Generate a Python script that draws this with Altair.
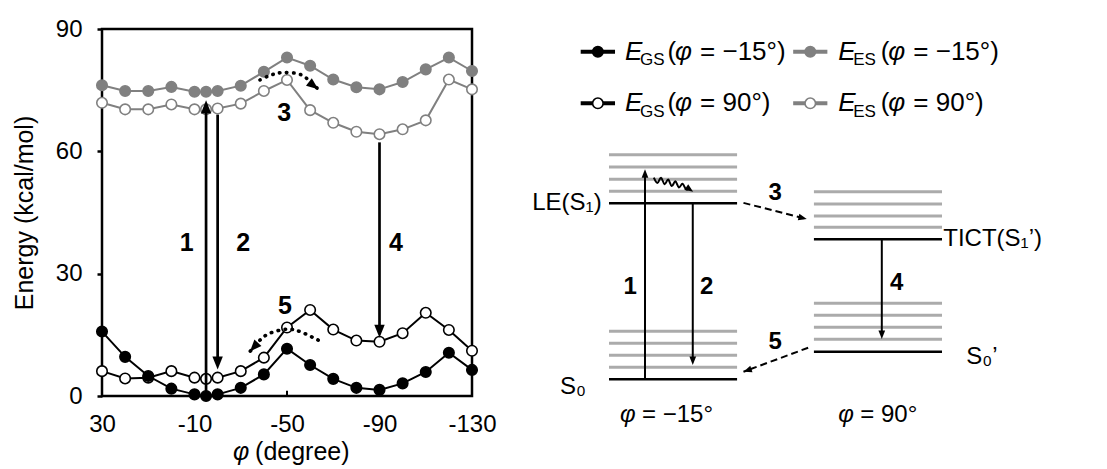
import altair as alt
import pandas as pd

# ---------------- data ----------------
phi = [30, 20, 10, 0, -10, -15, -20, -30, -40, -50, -60, -70, -80, -90, -100, -110, -120, -130]
e_gs_m15 = [15.8, 9.6, 4.9, 1.8, 0.4, 0.0, 0.4, 2.0, 5.3, 11.6, 7.6, 4.2, 2.0, 1.5, 3.1, 5.9, 10.6, 6.4]
e_es_m15 = [76.2, 74.8, 74.8, 75.8, 74.6, 74.6, 74.8, 76.1, 79.5, 83.0, 81.0, 77.6, 75.7, 75.2, 77.0, 80.1, 83.0, 79.7]
e_gs_90 = [6.1, 4.3, 4.5, 6.1, 4.5, 4.2, 4.5, 6.1, 9.4, 16.8, 21.1, 16.3, 13.6, 13.3, 15.4, 20.4, 16.2, 11.1]
e_es_90 = [71.9, 70.3, 70.3, 71.5, 70.3, 70.3, 70.5, 71.7, 74.8, 77.5, 70.1, 67.0, 64.8, 64.2, 65.4, 67.6, 77.6, 75.2]

x_ticks = [30, -10, -50, -90, -130]
y_ticks = [0, 30, 60, 90]

# vertical transitions on the energy panel
arr_phi = [-15, -20, -90]
arr_from = [0.0, 69.0, 62.2]
arr_to = [72.5, 6.5, 14.3]
arr_head_angle = [0, 180, 180]

# numbered labels on the energy panel
lab_text = ["1", "2", "4", "3", "5"]
lab_phi = [-6.6, -31.1, -97.1, -48.8, -49.1]
lab_e = [37.4, 37.4, 37.4, 69.3, 22.1]

# dotted curved arrows (3 and 5)
p3_phi = [-38.3, -43.0, -48.4, -56.4, -63.5]
p3_e = [77.5, 78.7, 79.3, 78.7, 75.2]
p5_phi = [-63.5, -55.6, -49.9, -42.6, -38.3, -34.0]
p5_e = [13.7, 15.8, 16.4, 15.4, 13.7, 10.9]
dot_head_phi = [-63.5, -34.0]
dot_head_e = [75.2, 10.9]
dot_head_angle = [128, 222]

# ---------------- Jablonski-type diagram (diagram units) ----------------
lvl_gray_x1 = [0, 0, 0, 0, 0, 0, 0, 0, 16, 16, 16, 16, 16, 16, 16, 16]
lvl_gray_x2 = [10, 10, 10, 10, 10, 10, 10, 10, 26, 26, 26, 26, 26, 26, 26, 26]
lvl_gray_y = [1.0, 2.0, 3.0, 4.0, 15.67, 16.67, 17.7, 18.72,
              3.33, 4.33, 5.33, 6.33, 12.67, 13.6, 14.6, 15.63]
lvl_black_x1 = [0, 0, 16, 16]
lvl_black_x2 = [10, 10, 26, 26]
lvl_black_y = [0.0, 14.67, 11.67, 2.3]

d_arr_x = [2.81, 6.54, 21.3]
d_arr_from = [0.0, 14.67, 11.67]
d_arr_to = [17.5, 1.2, 3.36]
d_arr_angle = [0, 180, 180]

dash_id = [3, 3, 5, 5]
dash_x = [10.5, 15.44, 15.55, 10.5]
dash_y = [14.7, 13.36, 2.63, 0.63]
dash_head_x = [15.44, 10.5]
dash_head_y = [13.36, 0.63]
dash_head_angle = [103, 251]

wavy_x = [3.50, 3.78, 4.06, 4.34, 4.62, 4.90, 5.18, 5.46, 5.74, 6.02, 6.30]
wavy_y = [16.80, 16.35, 16.80, 16.25, 16.65, 16.10, 16.50, 15.98, 16.30, 15.82, 15.90]
wavy_head = (6.57, 15.63, 125)

d_num_text = ["1", "2", "3", "4", "5"]
d_num_x = [1.65, 7.63, 12.97, 22.47, 12.97]
d_num_y = [7.7, 7.7, 15.5, 8.0, 3.13]

d_lab_text = ["LE(S₁)", "TICT(S₁’)", "S₀", "S₀’"]
d_lab_x = [-0.57, 26.1, -3.83, 27.9]
d_lab_y = [14.67, 11.67, -0.64, 1.86]
d_lab_align = ["right", "left", "left", "left"]

phi_cap_x = [0.86, 17.9]
phi_cap_rest = ["= −15°", "= 90°"]
phi_cap_y = -2.98

# legend
leg_sub = ["GS", "ES", "GS", "ES"]
leg_ang = ["= −15°)", "= −15°)", "= 90°)", "= 90°)"]
leg_color = ["black", "#808080", "black", "#808080"]
leg_fill = ["black", "#808080", "white", "white"]
leg_sym_x1 = [-2.21, 14.38, -2.21, 14.38]
leg_sym_x2 = [0.47, 17.05, 0.47, 17.05]
leg_txt_x = [1.25, 17.9, 1.25, 17.9]
leg_row_y = [27.3, 27.3, 23.0, 23.0]

FONT = "Liberation Sans"
GRAY = "#808080"
LEVEL_GRAY = "#ababab"


def XL(f, axis=None):
    return alt.X(f, type="quantitative",
                 scale=alt.Scale(domain=[30, -130], range=[0, 370], nice=False, zero=False),
                 axis=axis)


def YL(f, axis=None):
    return alt.Y(f, type="quantitative",
                 scale=alt.Scale(domain=[0, 90], range=[367, 0], nice=False, zero=False), axis=axis)


def XD(f):
    return alt.X(f, type="quantitative",
                 scale=alt.Scale(domain=[0, 26], range=[507, 840], nice=False, zero=False),
                 axis=None)


def YD(f):
    return alt.Y(f, type="quantitative",
                 scale=alt.Scale(domain=[0, 20], range=[350.3, 110.3], nice=False, zero=False),
                 axis=None)


HEAD = "M0,0L0.8,2L-0.8,2Z"
layers = []

# ---------------- left panel ----------------
frame_df = pd.DataFrame({"a": [30], "b": [-130], "lo": [0], "hi": [90]})
layers.append(alt.Chart(frame_df).mark_rect(fill="transparent", stroke="black", strokeWidth=2.5).encode(
    x=XL("a", axis=alt.Axis(values=x_ticks, labelExpr="datum.value + ''", ticks=False, domain=False,
                            grid=False, labelFontSize=24, labelPadding=16, labelColor="black",
                            labelFont=FONT, labelFlush=False, labelOverlap=False, title=None)),
    x2="b:Q",
    y=YL("lo", axis=alt.Axis(values=y_ticks, domain=False, grid=False, ticks=True, tickSize=5,
                             tickWidth=2.5, tickColor="black", labelFontSize=24, labelPadding=15,
                             labelColor="black", labelFont=FONT, labelFlush=False,
                             title="Energy (kcal/mol)", titleFont=FONT, titleFontSize=25,
                             titleFontWeight="normal", titlePadding=18, titleColor="black")),
    y2="hi:Q",
))

tick_df = pd.DataFrame({"t": x_ticks, "lo": [0] * len(x_ticks), "hi": [1.3] * len(x_ticks)})
layers.append(alt.Chart(tick_df).mark_rule(color="black", strokeWidth=2).encode(
    x=XL("t"), y=YL("lo"), y2="hi:Q"))

df = pd.DataFrame({"phi": phi, "gs15": e_gs_m15, "es15": e_es_m15, "gs90": e_gs_90, "es90": e_es_90})

for col, color, fill in [("es90", GRAY, "white"), ("es15", GRAY, GRAY),
                         ("gs90", "black", "white"), ("gs15", "black", "black")]:
    base = alt.Chart(df)
    layers.append(base.mark_line(color=color, strokeWidth=2).encode(x=XL("phi"), y=YL(col)))
    layers.append(base.mark_circle(size=110, fill=fill, stroke=color, strokeWidth=1.6, opacity=1).encode(
        x=XL("phi"), y=YL(col)))

arr_df = pd.DataFrame({"phi": arr_phi, "y1": arr_from, "y2": arr_to, "ang": arr_head_angle})
arr_df["y2s"] = [t - 1.2 if t > f else t + 1.2 for f, t in zip(arr_from, arr_to)]
layers.append(alt.Chart(arr_df).mark_rule(color="black", strokeWidth=2.7).encode(
    x=XL("phi"), y=YL("y1"), y2="y2s:Q"))
layers.append(alt.Chart(arr_df).mark_point(shape=HEAD, filled=True, color="black", size=170, opacity=1).encode(
    x=XL("phi"), y=YL("y2"), angle=alt.Angle("ang:Q", scale=None)))

p_df = pd.DataFrame({"phi": p3_phi + p5_phi, "e": p3_e + p5_e,
                     "id": ["3"] * len(p3_phi) + ["5"] * len(p5_phi),
                     "i": list(range(len(p3_phi))) + list(range(len(p5_phi)))})
layers.append(alt.Chart(p_df).mark_line(color="black", strokeWidth=3.6, strokeDash=[0.5, 6.5],
                                        strokeCap="round", interpolate="cardinal").encode(
    x=XL("phi"), y=YL("e"), detail="id:N", order=alt.Order("i:Q")))
dh_df = pd.DataFrame({"phi": dot_head_phi, "e": dot_head_e, "ang": dot_head_angle})
layers.append(alt.Chart(dh_df).mark_point(shape=HEAD, filled=True, color="black", size=140, opacity=1).encode(
    x=XL("phi"), y=YL("e"), angle=alt.Angle("ang:Q", scale=None)))

lab_df = pd.DataFrame({"t": lab_text, "phi": lab_phi, "e": lab_e})
layers.append(alt.Chart(lab_df).mark_text(font=FONT, fontSize=25, fontWeight="bold", color="black",
                                          align="center", baseline="middle").encode(
    x=XL("phi"), y=YL("e"), text="t:N"))

xt_df = pd.DataFrame({"phi": [-26.6], "e": [-13.8], "t": ["φ"]})
layers.append(alt.Chart(xt_df).mark_text(font=FONT, fontSize=25, fontStyle="italic", color="black",
                                         align="left", baseline="middle").encode(
    x=XL("phi"), y=YL("e"), text="t:N"))
xt2_df = pd.DataFrame({"phi": [-36.2], "e": [-13.8], "t": ["(degree)"]})
layers.append(alt.Chart(xt2_df).mark_text(font=FONT, fontSize=25, color="black",
                                          align="left", baseline="middle").encode(
    x=XL("phi"), y=YL("e"), text="t:N"))

# ---------------- right panel (diagram + legend) ----------------
g_df = pd.DataFrame({"x1": lvl_gray_x1, "x2": lvl_gray_x2, "y": lvl_gray_y})
layers.append(alt.Chart(g_df).mark_rule(color=LEVEL_GRAY, strokeWidth=3).encode(
    x=XD("x1"), x2="x2:Q", y=YD("y")))
b_df = pd.DataFrame({"x1": lvl_black_x1, "x2": lvl_black_x2, "y": lvl_black_y})
layers.append(alt.Chart(b_df).mark_rule(color="black", strokeWidth=2.5).encode(
    x=XD("x1"), x2="x2:Q", y=YD("y")))

da_df = pd.DataFrame({"x": d_arr_x, "y1": d_arr_from, "y2": d_arr_to, "ang": d_arr_angle})
da_df["y2s"] = [t - 0.4 if t > f else t + 0.4 for f, t in zip(d_arr_from, d_arr_to)]
layers.append(alt.Chart(da_df).mark_rule(color="black", strokeWidth=2).encode(
    x=XD("x"), y=YD("y1"), y2="y2s:Q"))
layers.append(alt.Chart(da_df).mark_point(shape=HEAD, filled=True, color="black", size=70, opacity=1).encode(
    x=XD("x"), y=YD("y2"), angle=alt.Angle("ang:Q", scale=None)))

ds_df = pd.DataFrame({"id": dash_id, "x": dash_x, "y": dash_y, "i": [0, 1, 0, 1]})
layers.append(alt.Chart(ds_df).mark_line(color="black", strokeWidth=2, strokeDash=[7, 4]).encode(
    x=XD("x"), y=YD("y"), detail="id:N", order=alt.Order("i:Q")))
dsh_df = pd.DataFrame({"x": dash_head_x + [wavy_head[0]], "y": dash_head_y + [wavy_head[1]],
                       "ang": dash_head_angle + [wavy_head[2]]})
layers.append(alt.Chart(dsh_df).mark_point(shape=HEAD, filled=True, color="black", size=70, opacity=1).encode(
    x=XD("x"), y=YD("y"), angle=alt.Angle("ang:Q", scale=None)))

w_df = pd.DataFrame({"x": wavy_x, "y": wavy_y, "i": list(range(len(wavy_x)))})
layers.append(alt.Chart(w_df).mark_line(color="black", strokeWidth=2, interpolate="cardinal").encode(
    x=XD("x"), y=YD("y"), order=alt.Order("i:Q")))

dn_df = pd.DataFrame({"t": d_num_text, "x": d_num_x, "y": d_num_y})
layers.append(alt.Chart(dn_df).mark_text(font=FONT, fontSize=24, fontWeight="bold", color="black",
                                         align="center", baseline="middle").encode(
    x=XD("x"), y=YD("y"), text="t:N"))

for t, x, y, a in zip(d_lab_text, d_lab_x, d_lab_y, d_lab_align):
    ldf = pd.DataFrame({"t": [t], "x": [x], "y": [y]})
    layers.append(alt.Chart(ldf).mark_text(font=FONT, fontSize=24, color="black", align=a,
                                           baseline="middle").encode(
        x=XD("x"), y=YD("y"), text="t:N"))

pc_df = pd.DataFrame({"x": phi_cap_x, "y": [phi_cap_y] * 2, "t": ["φ", "φ"]})
layers.append(alt.Chart(pc_df).mark_text(font=FONT, fontSize=24, fontStyle="italic", color="black",
                                         align="left", baseline="middle").encode(
    x=XD("x"), y=YD("y"), text="t:N"))
pc2_df = pd.DataFrame({"x": [v + 1.72 for v in phi_cap_x], "y": [phi_cap_y] * 2, "t": phi_cap_rest})
layers.append(alt.Chart(pc2_df).mark_text(font=FONT, fontSize=24, color="black",
                                          align="left", baseline="middle").encode(
    x=XD("x"), y=YD("y"), text="t:N"))

# legend
lg = pd.DataFrame({"sub": leg_sub, "ang": leg_ang, "color": leg_color, "fill": leg_fill,
                   "x1": leg_sym_x1, "x2": leg_sym_x2, "tx": leg_txt_x, "y": leg_row_y})
lg["cx"] = (lg["x1"] + lg["x2"]) / 2
lg["E"] = "E"
lg["phi"] = "φ"
lg["par"] = "("
lg["sx"] = lg["tx"] + 1.17
lg["sy"] = lg["y"] - 0.69
lg["px"] = lg["tx"] + 3.31
lg["fx"] = lg["tx"] + 3.91
lg["rx"] = lg["tx"] + 5.86

layers.append(alt.Chart(lg).mark_rule(strokeWidth=4).encode(
    x=XD("x1"), x2="x2:Q", y=YD("y"), color=alt.Color("color:N", scale=None)))
layers.append(alt.Chart(lg).mark_circle(size=110, strokeWidth=1.6, opacity=1).encode(
    x=XD("cx"), y=YD("y"), fill=alt.Fill("fill:N", scale=None),
    stroke=alt.Stroke("color:N", scale=None)))


def leg_text(xf, yf, tf, size, italic=False):
    kw = dict(font=FONT, fontSize=size, color="black", align="left", baseline="middle")
    if italic:
        kw["fontStyle"] = "italic"
    return alt.Chart(lg).mark_text(**kw).encode(x=XD(xf), y=YD(yf), text=f"{tf}:N")


layers += [leg_text("tx", "y", "E", 26, True), leg_text("sx", "sy", "sub", 17),
           leg_text("px", "y", "par", 26), leg_text("fx", "y", "phi", 26, True),
           leg_text("rx", "y", "ang", 26)]

chart = alt.layer(*layers).resolve_scale(x="independent", y="independent").properties(
    width=990, height=367,
    autosize=alt.AutoSizeParams(type="none"),
    padding={"left": 94, "top": 21, "right": 5, "bottom": 73},
).configure(font=FONT).configure_view(strokeWidth=0)

chart.save("out.html", embed_options={"renderer": "svg", "actions": False})
